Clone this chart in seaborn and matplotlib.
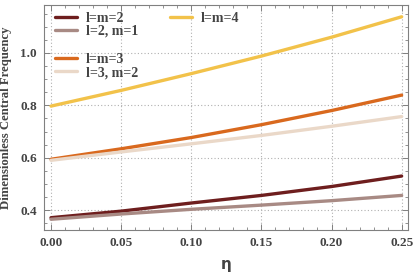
import seaborn as sns
import matplotlib.pyplot as plt
import pandas as pd
from matplotlib.ticker import MultipleLocator

# values
eta = [0.0, 0.05, 0.10, 0.15, 0.20, 0.25]
l2m2 = [0.371, 0.396, 0.427, 0.456, 0.490, 0.530]
l2m1 = [0.365, 0.385, 0.403, 0.419, 0.436, 0.456]
l3m3 = [0.594, 0.634, 0.677, 0.726, 0.780, 0.839]
l3m2 = [0.590, 0.622, 0.653, 0.685, 0.720, 0.757]
l4m4 = [0.797, 0.857, 0.921, 0.988, 1.060, 1.138]

labels = ["l=m=2", "l=2, m=1", "l=m=3", "l=3, m=2", "l=m=4"]
colors = ["#6e1e1e", "#a88a84", "#d9691e", "#ead8c8", "#f2c24a"]
series = [l2m2, l2m1, l3m3, l3m2, l4m4]

sns.set_style("ticks")
serif = "Liberation Serif"

fig = plt.figure(figsize=(4.15, 2.73), dpi=100)
ax = fig.add_axes([0.106, 0.1575, 0.877, 0.8242])

handles = []
for lab, col, vals in zip(labels, colors, series):
    df = pd.DataFrame({"eta": eta, "freq": vals})
    sns.lineplot(data=df, x="eta", y="freq", color=col, lw=2.4, ax=ax, legend=False)
    handles.append(ax.get_lines()[-1])

ax.set_xlim(-0.005, 0.2545)
ax.set_ylim(0.324, 1.183)
ax.xaxis.set_major_locator(MultipleLocator(0.05))
ax.xaxis.set_minor_locator(MultipleLocator(0.01))
ax.yaxis.set_major_locator(MultipleLocator(0.2))
ax.yaxis.set_minor_locator(MultipleLocator(0.05))
ax.xaxis.set_major_formatter(plt.FormatStrFormatter("%.2f"))
ax.yaxis.set_major_formatter(plt.FormatStrFormatter("%.1f"))
ax.grid(True, which="major", ls=(0, (1, 2)), color="#b0b0b0", lw=0.8)
ax.tick_params(which="both", direction="in", top=True, right=True, color="#808080")
ax.tick_params(which="major", length=4, width=0.7, pad=5)
ax.tick_params(which="minor", length=2.5, width=0.6)
for s in ax.spines.values():
    s.set_color("#808080")
    s.set_linewidth(0.8)
for t in ax.get_xticklabels() + ax.get_yticklabels():
    t.set_fontfamily(serif)
    t.set_fontweight("bold")
    t.set_fontsize(9.5)
    t.set_color("#444444")

ax.set_xlabel("η", fontsize=11, fontweight="bold", color="#444444",
              family="DejaVu Sans", labelpad=6)
ax.set_ylabel("Dimensionless Central Frequency", fontsize=9.2, fontweight="bold",
              color="#444444", family=serif, labelpad=6)

lkw = dict(frameon=False, handlelength=1.6, handletextpad=0.6, labelspacing=0.0,
           prop={"family": serif, "weight": "bold", "size": 10}, labelcolor="#444444",
           borderaxespad=0.0)
leg1 = ax.legend(handles[:2], labels[:2], loc="upper left", bbox_to_anchor=(0.015, 0.995), **lkw)
ax.add_artist(leg1)
leg2 = ax.legend(handles[4:], labels[4:], loc="upper left", bbox_to_anchor=(0.331, 0.995), **lkw)
ax.add_artist(leg2)
ax.legend(handles[2:4], labels[2:4], loc="upper left", bbox_to_anchor=(0.015, 0.81), **lkw)

fig.savefig("out.png", dpi=100)
